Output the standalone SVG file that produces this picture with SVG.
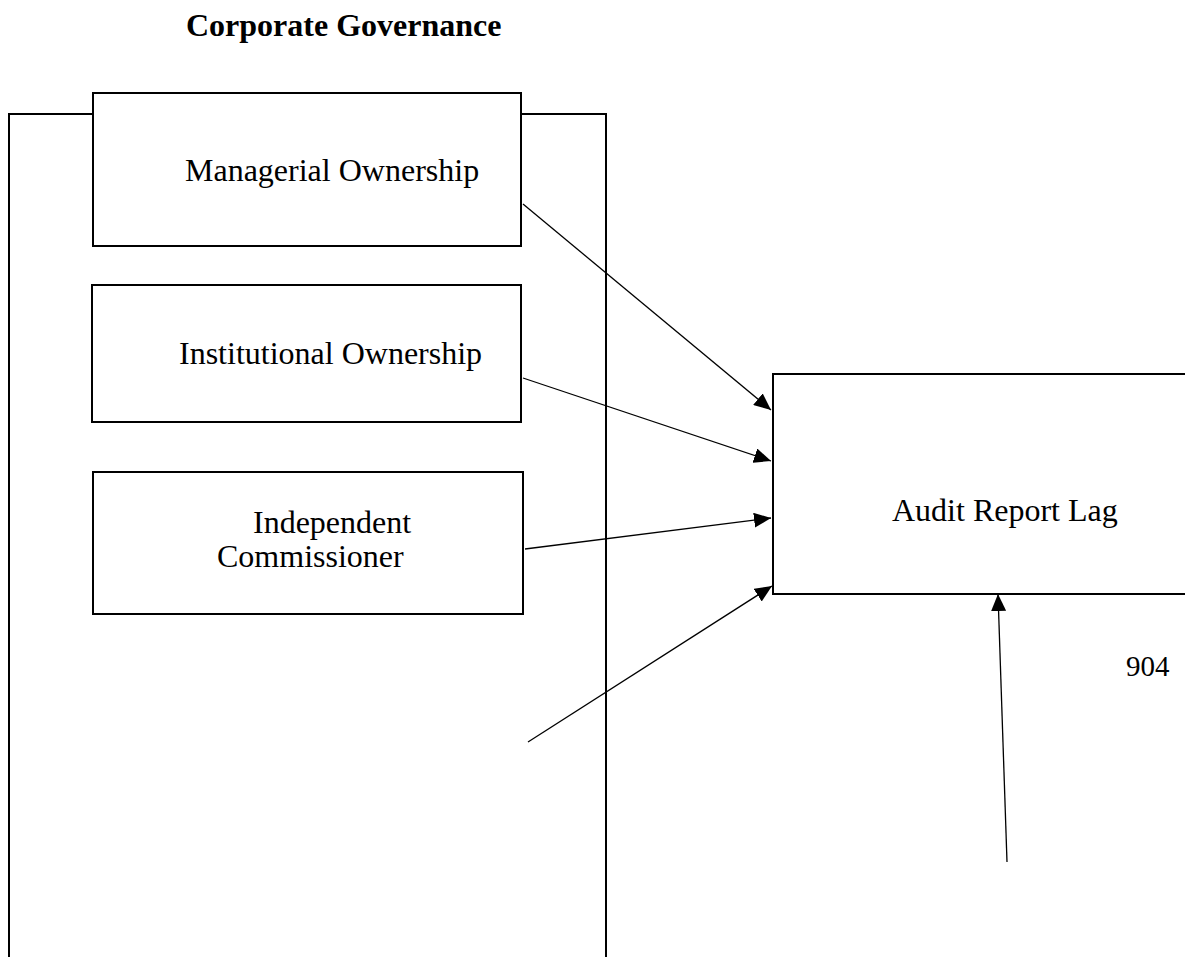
<svg xmlns="http://www.w3.org/2000/svg" width="1185" height="957" viewBox="0 0 1185 957">
<style>
.box{fill:#fff;stroke:#000;stroke-width:2}
.frame{fill:none;stroke:#000;stroke-width:2}
.lbl{font-family:"Liberation Serif","Times New Roman",serif;font-size:32px;fill:#000}
.title{font-family:"Liberation Serif","Times New Roman",serif;font-size:32px;font-weight:bold;fill:#000}
.conn{stroke:#000;stroke-width:1.3;fill:none;marker-end:url(#arr)}
</style>
<defs>
<marker id="arr" markerUnits="userSpaceOnUse" markerWidth="18" markerHeight="15" refX="17" refY="7.5" orient="auto">
<path d="M0,0 L17,7.5 L0,15 z" fill="#000"/>
</marker>
</defs>
<rect width="1185" height="957" fill="#fff"/>
<g id="title"><text class="title" x="186" y="36">Corporate Governance</text></g>
<g id="corporate-governance-frame"><rect class="frame" x="9" y="114" width="597" height="900"/></g>
<g id="managerial-ownership"><rect class="box" x="93" y="93" width="428" height="153"/><text class="lbl" x="185" y="181">Managerial Ownership</text></g>
<g id="institutional-ownership"><rect class="box" x="92" y="285" width="429" height="137"/><text class="lbl" x="179" y="364">Institutional Ownership</text></g>
<g id="independent-commissioner"><rect class="box" x="93" y="472" width="430" height="142"/><text class="lbl" x="253" y="533">Independent</text><text class="lbl" x="217" y="567">Commissioner</text></g>
<g id="audit-report-lag"><rect class="box" x="773" y="374" width="440" height="220"/><text class="lbl" x="892" y="521">Audit Report Lag</text></g>
<g id="page-number"><text class="lbl" x="1126" y="676" style="font-size:29px">904</text></g>
<g id="connectors">
<line class="conn" x1="523" y1="204" x2="771" y2="410"/>
<line class="conn" x1="523" y1="378" x2="771" y2="461"/>
<line class="conn" x1="525" y1="549" x2="771" y2="518"/>
<line class="conn" x1="528" y1="742" x2="772" y2="586"/>
<line class="conn" x1="1007" y1="862" x2="998" y2="594"/>
</g>
</svg>
